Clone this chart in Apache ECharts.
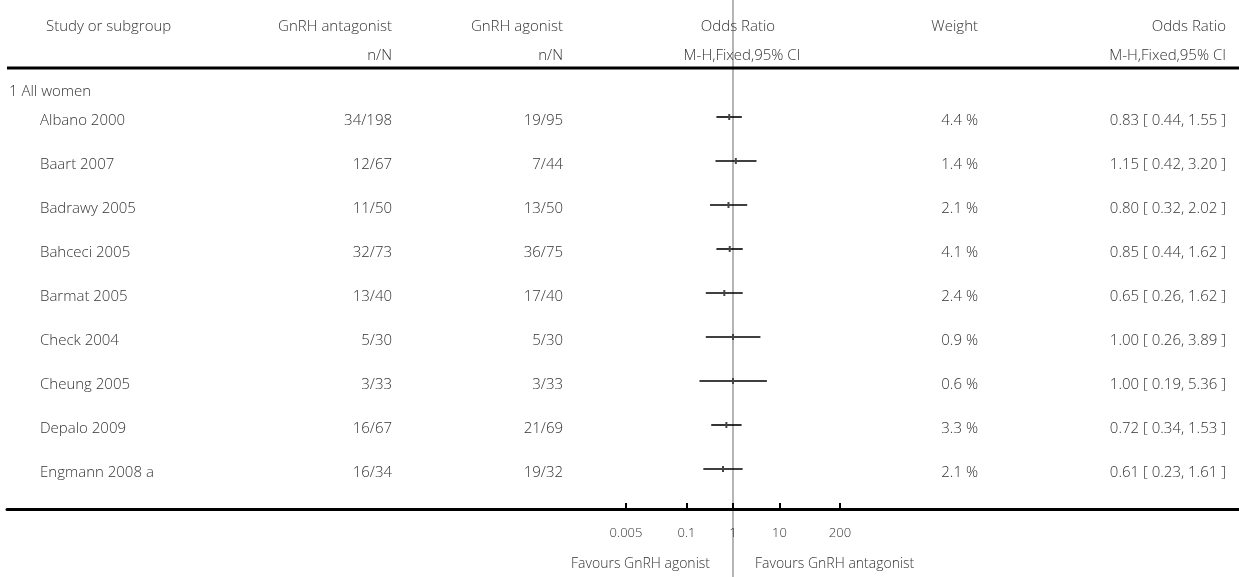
<!DOCTYPE html>
<html>
<head>
<meta charset="utf-8">
<style>
  html, body { margin: 0; padding: 0; background: #fff; }
  #main { width: 1239px; height: 577px; }
</style>
<script src="https://cdn.jsdelivr.net/npm/echarts@6/dist/echarts.min.js"></script>
</head>
<body>
<div id="main"></div>
<script>
// study rows
const studies = ['Albano 2000', 'Baart 2007', 'Badrawy 2005', 'Bahceci 2005', 'Barmat 2005',
  'Check 2004', 'Cheung 2005', 'Depalo 2009', 'Engmann 2008 a']
const antagonist = ['34/198', '12/67', '11/50', '32/73', '13/40', '5/30', '3/33', '16/67', '16/34']
const agonist = ['19/95', '7/44', '13/50', '36/75', '17/40', '5/30', '3/33', '21/69', '19/32']
const weights = [4.4, 1.4, 2.1, 4.1, 2.4, 0.9, 0.6, 3.3, 2.1]
const oddsRatio = [0.83, 1.15, 0.80, 0.85, 0.65, 1.00, 1.00, 0.72, 0.61]
const ciLow = [0.44, 0.42, 0.32, 0.44, 0.26, 0.26, 0.19, 0.34, 0.23]
const ciHigh = [1.55, 3.20, 2.02, 1.62, 1.62, 3.89, 5.36, 1.53, 1.61]

// axis ticks (odds ratio, log scale)
const tickValues = [0.005, 0.1, 1, 10, 200]
const tickLabels = ['0.005', '0.1', '1', '10', '200']

const font = '"Open Sans"'
const textColor = '#333'
const log = v => Math.log10(v)
const tickLogs = tickValues.map(log)

const chart = echarts.init(document.getElementById('main'))

const ciData = studies.map((s, i) => [i, log(ciLow[i]), log(ciHigh[i]), log(oddsRatio[i])])

chart.setOption({
  animation: false,
  grid: { left: 7, right: 0, top: 95, height: 396 },
  xAxis: {
    type: 'value',
    z: 10,
    min: -726 / 46.5,
    max: 506 / 46.5,
    position: 'bottom',
    offset: 18,
    splitLine: { show: false },
    axisLine: { show: true, lineStyle: { color: '#000', width: 3 } },
    axisTick: { show: true, inside: true, length: 6, customValues: tickLogs, lineStyle: { color: '#000', width: 2 } },
    axisLabel: {
      customValues: tickLogs,
      margin: 18,
      fontFamily: font,
      fontWeight: 300,
      fontSize: 13,
      color: textColor,
      formatter: v => {
        let best = 0
        tickLogs.forEach((t, k) => { if (Math.abs(t - v) < Math.abs(tickLogs[best] - v)) best = k })
        return tickLabels[best]
      }
    }
  },
  yAxis: {
    type: 'category',
    data: studies,
    inverse: true,
    show: false
  },
  series: [{
    type: 'custom',
    data: ciData,
    z: 5,
    renderItem: (params, api) => {
      const row = api.value(0)
      const a = api.coord([api.value(1), row])
      const b = api.coord([api.value(2), row])
      const p = api.coord([api.value(3), row])
      return {
        type: 'group',
        children: [
          { type: 'line', shape: { x1: a[0], y1: a[1], x2: b[0], y2: b[1] },
            style: { stroke: '#000', lineWidth: 1.6 } },
          { type: 'rect', shape: { x: p[0] - 1, y: p[1] - 3, width: 2, height: 6 },
            style: { fill: '#444' } }
        ]
      }
    }
  }]
})

// table text positioned on the chart's own row scale
const rowY = i => chart.convertToPixel({ yAxisIndex: 0 }, i)
const zeroX = chart.convertToPixel({ xAxisIndex: 0 }, 0)

function txt(x, y, s, align, size) {
  return {
    type: 'text', x: x, y: y, z: 10,
    style: { text: s, align: align, verticalAlign: 'middle', fontFamily: font,
      fontWeight: 300, fontSize: size || 15, fill: textColor }
  }
}

const g = []
g.push({ type: 'line', z: 0, shape: { x1: zeroX, y1: 0, x2: zeroX, y2: 577 },
  style: { stroke: '#b5b5b5', lineWidth: 2 } })
g.push({ type: 'line', z: 3, shape: { x1: 7, y1: 68, x2: 1239, y2: 68 },
  style: { stroke: '#000', lineWidth: 3 } })

// header
g.push(txt(46, 27, 'Study or subgroup', 'left'))
g.push(txt(392, 27, 'GnRH antagonist', 'right'))
g.push(txt(563, 27, 'GnRH agonist', 'right'))
g.push(txt(738, 27, 'Odds Ratio', 'center'))
g.push(txt(978, 27, 'Weight', 'right'))
g.push(txt(1226, 27, 'Odds Ratio', 'right'))
g.push(txt(392, 56, 'n/N', 'right'))
g.push(txt(563, 56, 'n/N', 'right'))
g.push(txt(742, 56, 'M-H,Fixed,95% CI', 'center'))
g.push(txt(1226, 56, 'M-H,Fixed,95% CI', 'right'))
g.push(txt(9, 92, '1 All women', 'left'))

studies.forEach((s, i) => {
  const y = rowY(i) + 4
  g.push(txt(40, y, s, 'left'))
  g.push(txt(392, y, antagonist[i], 'right'))
  g.push(txt(563, y, agonist[i], 'right'))
  g.push(txt(978, y, weights[i].toFixed(1) + ' %', 'right'))
  g.push(txt(1226, y, oddsRatio[i].toFixed(2) + ' [ ' + ciLow[i].toFixed(2) + ', ' + ciHigh[i].toFixed(2) + ' ]', 'right'))
})

g.push(txt(zeroX - 23, 564, 'Favours GnRH agonist', 'right', 14))
g.push(txt(zeroX + 22, 564, 'Favours GnRH antagonist', 'left', 14))

chart.setOption({ graphic: g })
</script>
</body>
</html>
